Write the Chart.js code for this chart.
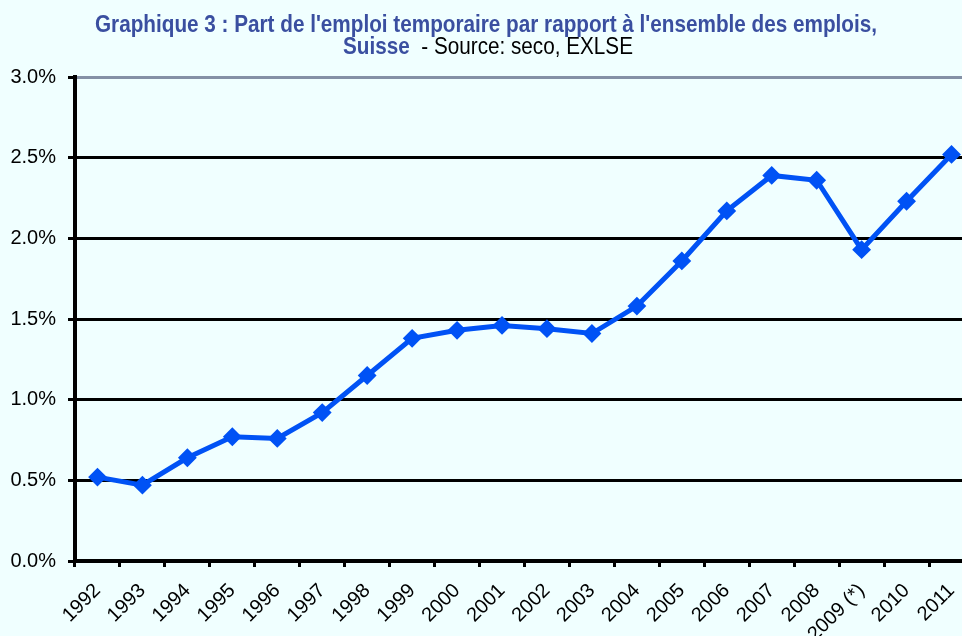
<!DOCTYPE html>
<html>
<head>
<meta charset="utf-8">
<script src="https://cdn.jsdelivr.net/npm/chart.js@4.4.1/dist/chart.umd.min.js"></script>
<style>
  html, body { margin:0; padding:0; width:962px; height:636px; overflow:hidden; background:#F0FFFF; }
  #wrap { position:absolute; left:0; top:0; width:985px; height:636px; }
  .tline { position:absolute; left:0; white-space:nowrap; z-index:2;
           font-family:"Liberation Sans", Arial, sans-serif; font-size:24px; line-height:24px; }
  .tline span.inner { display:inline-block; transform-origin:0 0; }
  .b { font-weight:bold; color:#3A4FA0; }
  .n { font-weight:normal; color:#000; }
</style>
</head>
<body>
<div id="wrap">
  <div class="tline" id="t1" style="top:12px"><span class="inner b">Graphique 3 : Part de l'emploi temporaire par rapport à l'ensemble des emplois,</span></div>
  <div class="tline" id="t2" style="top:34px"><span class="inner"><span class="b">Suisse</span><span class="n">&nbsp;&nbsp;- Source: seco, EXLSE</span></span></div>
  <canvas id="c" width="985" height="636"></canvas>
</div>
<script>
const categories = ["1992","1993","1994","1995","1996","1997","1998","1999","2000","2001","2002","2003","2004","2005","2006","2007","2008","2009 (*)","2010","2011"];
const tempShare = [0.52,0.47,0.64,0.77,0.76,0.92,1.15,1.38,1.43,1.46,1.44,1.41,1.58,1.86,2.17,2.39,2.36,1.93,2.23,2.52];
const yTicks = [0,0.5,1,1.5,2,2.5,3];

// fit title lines horizontally (condensed look of the original)
function fitLine(id, left, right) {
  const line = document.getElementById(id);
  const inner = line.querySelector('.inner');
  const w = inner.getBoundingClientRect().width;
  inner.style.transform = 'scaleX(' + ((right - left) / w) + ')';
  line.style.left = left + 'px';
}
fitLine('t1', 95, 877);
fitLine('t2', 343, 633);

const FONT = "'Liberation Sans', Arial, sans-serif";
new Chart(document.getElementById('c'), {
  type: 'line',
  data: {
    labels: categories,
    datasets: [{
      data: tempShare,
      borderColor: '#0052F5',
      backgroundColor: '#0052F5',
      borderWidth: 5,
      pointStyle: 'rectRot',
      pointRadius: 8,
      pointBorderWidth: 2,
      pointBorderColor: '#0052F5',
      pointBackgroundColor: '#0052F5',
      tension: 0,
      fill: false
    }]
  },
  options: {
    responsive: false,
    animation: false,
    devicePixelRatio: 1,
    layout: { padding: { top: 77, right: 11, bottom: 0, left: 0 } },
    plugins: { legend: { display: false }, tooltip: { enabled: false }, title: { display: false } },
    scales: {
      x: {
        type: 'category',
        offset: true,
        afterFit: s => { s.height = 75; },
        grid: { offset: true, drawOnChartArea: false, drawTicks: true, tickLength: 6, color: '#000', lineWidth: 3 },
        border: { display: true, color: '#000', width: 4 },
        ticks: { color: '#000', font: { family: FONT, size: 20 }, maxRotation: 45, minRotation: 45, autoSkip: false, padding: 12 }
      },
      y: {
        min: 0, max: 3,
        afterFit: s => { s.width = 75; },
        afterBuildTicks: s => { s.ticks = yTicks.map(v => ({ value: v })); },
        grid: {
          color: c => (c.tick && c.tick.value === 3) ? '#8591A6' : '#000',
          lineWidth: 3,
          tickColor: '#000',
          tickLength: 7,
          drawTicks: true
        },
        border: { display: true, color: '#000', width: 4 },
        ticks: { color: '#000', font: { family: FONT, size: 20 }, padding: 12, callback: v => v.toFixed(1) + '%' }
      }
    }
  }
});
</script>
</body>
</html>
